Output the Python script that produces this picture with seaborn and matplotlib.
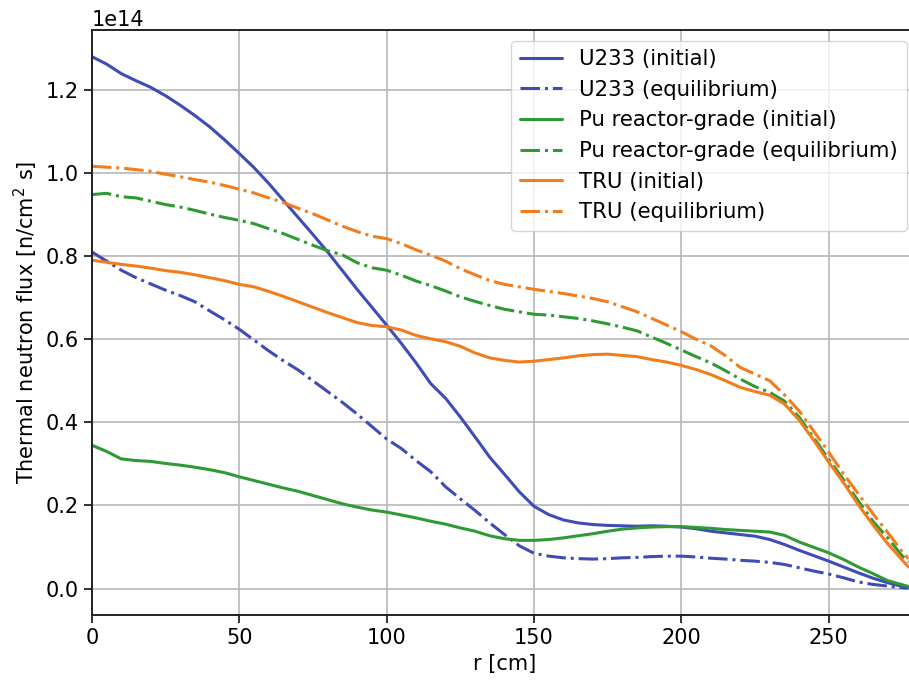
import numpy as np
import pandas as pd
import matplotlib
matplotlib.use("Agg")
import matplotlib.pyplot as plt
import seaborn as sns

r = [0, 5, 10, 15, 20, 25, 30, 35, 40, 45, 50, 55, 60, 65, 70, 75, 80, 85, 90, 95,
     100, 105, 110, 115, 120, 125, 130, 135, 140, 145, 150, 155, 160, 165, 170, 175,
     180, 185, 190, 195, 200, 205, 210, 215, 220, 225, 230, 235, 240, 245, 250, 255,
     260, 265, 270, 275, 277]

u233_initial = [1.280, 1.262, 1.239, 1.222, 1.206, 1.186, 1.163, 1.138, 1.111, 1.080,
                1.047, 1.013, 0.975, 0.934, 0.893, 0.852, 0.810, 0.765, 0.720, 0.677,
                0.634, 0.590, 0.543, 0.493, 0.458, 0.413, 0.365, 0.316, 0.275, 0.233,
                0.198, 0.178, 0.165, 0.158, 0.154, 0.152, 0.151, 0.150, 0.151, 0.150,
                0.148, 0.144, 0.138, 0.134, 0.130, 0.126, 0.118, 0.106, 0.092, 0.079,
                0.066, 0.052, 0.038, 0.025, 0.014, 0.005, 0.003]

u233_equil = [0.810, 0.788, 0.766, 0.748, 0.733, 0.718, 0.705, 0.690, 0.668, 0.647,
              0.624, 0.598, 0.572, 0.548, 0.526, 0.500, 0.474, 0.448, 0.420, 0.390,
              0.360, 0.337, 0.308, 0.281, 0.245, 0.216, 0.188, 0.158, 0.130, 0.103,
              0.085, 0.078, 0.074, 0.072, 0.071, 0.072, 0.074, 0.075, 0.077, 0.078,
              0.078, 0.076, 0.073, 0.071, 0.068, 0.066, 0.063, 0.058, 0.050, 0.042,
              0.035, 0.026, 0.016, 0.010, 0.006, 0.002, 0.001]

pu_initial = [0.345, 0.330, 0.312, 0.308, 0.306, 0.301, 0.297, 0.292, 0.286, 0.279,
              0.269, 0.260, 0.251, 0.242, 0.234, 0.224, 0.214, 0.204, 0.196, 0.189,
              0.184, 0.177, 0.170, 0.162, 0.155, 0.146, 0.138, 0.127, 0.120, 0.116,
              0.116, 0.118, 0.122, 0.127, 0.132, 0.138, 0.143, 0.146, 0.148, 0.149,
              0.149, 0.147, 0.145, 0.142, 0.140, 0.138, 0.136, 0.128, 0.112, 0.099,
              0.086, 0.070, 0.052, 0.036, 0.019, 0.009, 0.005]

pu_equil = [0.948, 0.951, 0.943, 0.940, 0.932, 0.924, 0.918, 0.910, 0.901, 0.893,
            0.886, 0.878, 0.866, 0.854, 0.840, 0.826, 0.813, 0.803, 0.784, 0.772,
            0.766, 0.754, 0.740, 0.729, 0.716, 0.702, 0.691, 0.681, 0.672, 0.666,
            0.660, 0.658, 0.654, 0.650, 0.644, 0.637, 0.629, 0.620, 0.605, 0.590,
            0.574, 0.558, 0.543, 0.524, 0.504, 0.486, 0.472, 0.451, 0.412, 0.362,
            0.311, 0.262, 0.211, 0.162, 0.122, 0.078, 0.064]

tru_initial = [0.790, 0.785, 0.780, 0.776, 0.771, 0.765, 0.761, 0.755, 0.748, 0.741,
               0.732, 0.726, 0.715, 0.703, 0.690, 0.677, 0.664, 0.652, 0.640, 0.633,
               0.630, 0.622, 0.609, 0.601, 0.594, 0.583, 0.567, 0.555, 0.549, 0.545,
               0.547, 0.551, 0.555, 0.560, 0.563, 0.564, 0.561, 0.558, 0.551, 0.545,
               0.537, 0.527, 0.515, 0.500, 0.484, 0.474, 0.465, 0.444, 0.405, 0.356,
               0.304, 0.255, 0.202, 0.153, 0.108, 0.068, 0.052]

tru_equil = [1.016, 1.014, 1.012, 1.008, 1.004, 0.997, 0.991, 0.984, 0.978, 0.970,
             0.961, 0.952, 0.940, 0.929, 0.915, 0.902, 0.887, 0.872, 0.859, 0.848,
             0.842, 0.830, 0.815, 0.802, 0.788, 0.770, 0.755, 0.741, 0.732, 0.726,
             0.720, 0.715, 0.710, 0.704, 0.698, 0.690, 0.678, 0.666, 0.650, 0.634,
             0.618, 0.600, 0.584, 0.560, 0.532, 0.516, 0.500, 0.466, 0.427, 0.378,
             0.328, 0.276, 0.228, 0.180, 0.135, 0.088, 0.072]

labels = ["U233 (initial)", "U233 (equilibrium)",
          "Pu reactor-grade (initial)", "Pu reactor-grade (equilibrium)",
          "TRU (initial)", "TRU (equilibrium)"]

series = [u233_initial, u233_equil, pu_initial, pu_equil, tru_initial, tru_equil]
colors = ["#3f4bb6", "#3f4bb6", "#2f9a34", "#2f9a34", "#f27d1c", "#f27d1c"]
styles = ["-", "-.", "-", "-.", "-", "-."]

sns.set_style("ticks")
plt.rcParams["font.family"] = ["DejaVu Sans"]
plt.rcParams["text.color"] = "black"
plt.rcParams["axes.labelcolor"] = "black"
plt.rcParams["xtick.color"] = "black"
plt.rcParams["ytick.color"] = "black"

fig = plt.figure(figsize=(9.09, 6.82), dpi=100)
# axes extends slightly past the right edge of the picture, as in the reference
ax = fig.add_axes([0.101, 0.098, 0.908, 0.858])

for y, lab, c, ls in zip(series, labels, colors, styles):
    df = pd.DataFrame({"r": r, "flux": np.array(y) * 1e14})
    sns.lineplot(data=df, x="r", y="flux", ax=ax, color=c, linestyle=ls,
                 linewidth=2.2, label=lab, sort=False)

ax.set_xlim(0, 280)
ax.set_ylim(-0.064e14, 1.344e14)
ax.set_xticks([0, 50, 100, 150, 200, 250])
ax.set_yticks(np.arange(0, 1.3, 0.2) * 1e14)
ax.grid(True, color="#b8b8b8", linewidth=1.2)
ax.set_axisbelow(True)
for s in ax.spines.values():
    s.set_linewidth(1.4)
    s.set_color("#222222")
ax.tick_params(axis="both", labelsize=15, length=6, width=1.3, color="#222222")
ax.yaxis.get_offset_text().set_fontsize(15)
ax.set_xlabel("r [cm]", fontsize=15)
ax.set_ylabel("Thermal neutron flux [n/cm$^2$ s]", fontsize=15)
ax.legend(loc="upper right", fontsize=15.3, frameon=True, framealpha=0.8,
          edgecolor="#cccccc", handlelength=2.0)

fig.savefig("out.png", dpi=100)
